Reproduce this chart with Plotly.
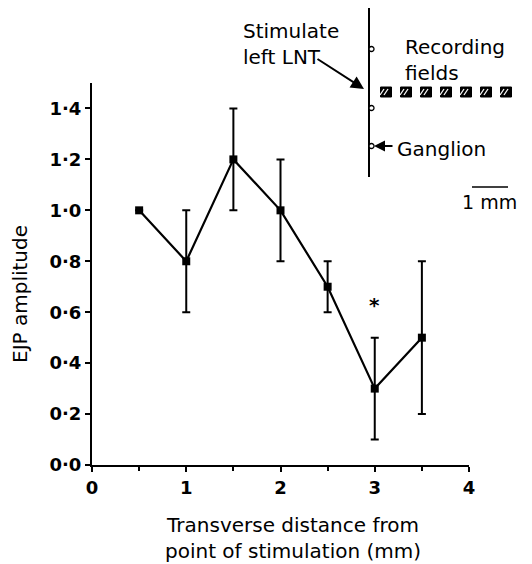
import plotly.graph_objects as go

# ---- data ----
distance_mm = [0.5, 1.0, 1.5, 2.0, 2.5, 3.0, 3.5]
ejp_amplitude = [1.0, 0.8, 1.2, 1.0, 0.7, 0.3, 0.5]
err_plus = [None, 0.2, 0.2, 0.2, 0.1, 0.2, 0.3]
err_minus = [None, 0.2, 0.2, 0.2, 0.1, 0.2, 0.3]
x_tick_vals = [0, 1, 2, 3, 4]
x_tick_text = ["0", "1", "2", "3", "4"]
y_tick_vals = [0.0, 0.2, 0.4, 0.6, 0.8, 1.0, 1.2, 1.4]
y_tick_text = ["0·0", "0·2", "0·4", "0·6", "0·8", "1·0", "1·2", "1·4"]

OFF = 8  # page body margin
W, H = 532 - OFF, 564 - OFF
L, R, T, B = 92, 469, 83, 465   # plot box in window pixels
FONT = "DejaVu Sans"


def px(x):
    return (x - L) / (R - L)


def py(y):
    return (B - y) / (B - T)


fig = go.Figure()
fig.add_trace(go.Scatter(
    x=distance_mm, y=ejp_amplitude, mode="lines+markers",
    line=dict(color="black", width=2.2),
    marker=dict(symbol="square", size=8, color="black"),
    error_y=dict(type="data", array=err_plus, arrayminus=err_minus,
                 color="black", thickness=2, width=4),
    cliponaxis=False, showlegend=False,
))

shapes = []
# diagram: nerve line
shapes.append(dict(type="line", xref="paper", yref="paper",
                   x0=px(369), x1=px(369), y0=py(5), y1=py(177),
                   line=dict(color="black", width=2)))
for cy in [49, 108, 146]:
    shapes.append(dict(type="circle", xref="paper", yref="paper",
                       x0=px(369), x1=px(374), y0=py(cy - 2.5), y1=py(cy + 2.5),
                       fillcolor="white", line=dict(color="black", width=1.3)))
# recording fields (hatched squares)
for cx in [386, 406, 426, 446, 466, 486, 506]:
    cy = 92
    shapes.append(dict(type="rect", xref="paper", yref="paper",
                       x0=px(cx - 5.5), x1=px(cx + 5.5), y0=py(cy + 5), y1=py(cy - 5),
                       fillcolor="black", line=dict(color="black", width=1)))
    for off in [-2.5, 1.5]:
        shapes.append(dict(type="line", xref="paper", yref="paper",
                           x0=px(cx - 3.5 + off), x1=px(cx + 0.5 + off),
                           y0=py(cy + 3), y1=py(cy - 3),
                           line=dict(color="white", width=1.3)))
# scale bar
shapes.append(dict(type="line", xref="paper", yref="paper",
                   x0=px(472), x1=px(508), y0=py(187), y1=py(187),
                   line=dict(color="black", width=1.5)))

ann = []
ann.append(dict(text="Stimulate<br>left LNT", xref="paper", yref="paper",
                x=px(241), y=py(44), xanchor="left", yanchor="middle", align="left",
                showarrow=False, font=dict(family=FONT, size=20, color="black")))
ann.append(dict(text="", xref="paper", yref="paper", x=px(364), y=py(89),
                ax=-48, ay=-31, showarrow=True, arrowhead=2, arrowsize=1.3,
                arrowwidth=2, arrowcolor="black"))
ann.append(dict(text="Recording<br>fields", xref="paper", yref="paper",
                x=px(403), y=py(60), xanchor="left", yanchor="middle", align="left",
                showarrow=False, font=dict(family=FONT, size=20, color="black")))
ann.append(dict(text="Ganglion", xref="paper", yref="paper",
                x=px(395), y=py(149), xanchor="left", yanchor="middle",
                showarrow=False, font=dict(family=FONT, size=20, color="black")))
ann.append(dict(text="", xref="paper", yref="paper", x=px(374), y=py(146),
                ax=20, ay=0, showarrow=True, arrowhead=2, arrowsize=1.1,
                arrowwidth=2, arrowcolor="black"))
ann.append(dict(text="1 mm", xref="paper", yref="paper",
                x=px(489), y=py(202), xanchor="center", yanchor="middle",
                showarrow=False, font=dict(family=FONT, size=19, color="black")))
ann.append(dict(text="<b>*</b>", xref="x", yref="y", x=3, y=0.63,
                showarrow=False, font=dict(family=FONT, size=20, color="black")))
ann.append(dict(text="Transverse distance from<br>point of stimulation (mm)",
                xref="paper", yref="paper", x=px(293), y=py(538),
                xanchor="center", yanchor="middle", showarrow=False,
                font=dict(family=FONT, size=20, color="black")))
ann.append(dict(text="EJP amplitude", xref="paper", yref="paper",
                x=px(20), y=py(294), xanchor="center", yanchor="middle",
                textangle=-90, showarrow=False,
                font=dict(family=FONT, size=20, color="black")))

fig.update_layout(
    width=W, height=H,
    margin=dict(l=L - OFF, r=W - (R - OFF), t=T - OFF, b=H - (B - OFF), pad=0),
    paper_bgcolor="white", plot_bgcolor="white",
    shapes=shapes, annotations=ann,
    xaxis=dict(range=[0, 4], tickvals=x_tick_vals, ticktext=x_tick_text,
               showgrid=False, zeroline=False, showline=True, linecolor="black",
               linewidth=2, ticks="outside", ticklen=5, tickwidth=2, tickcolor="black",
               minor=dict(dtick=0.5, ticks="outside", ticklen=4, tickwidth=2,
                          tickcolor="black"),
               tickfont=dict(family=FONT, size=18, color="black", weight="bold")),
    yaxis=dict(range=[0, 1.5], tickvals=y_tick_vals, ticktext=y_tick_text,
               showgrid=False, zeroline=False, showline=True, linecolor="black",
               linewidth=2, ticks="outside", ticklen=5, tickwidth=2, tickcolor="black",
               tickfont=dict(family=FONT, size=18, color="black", weight="bold")),
)

fig.write_html("out.html")
